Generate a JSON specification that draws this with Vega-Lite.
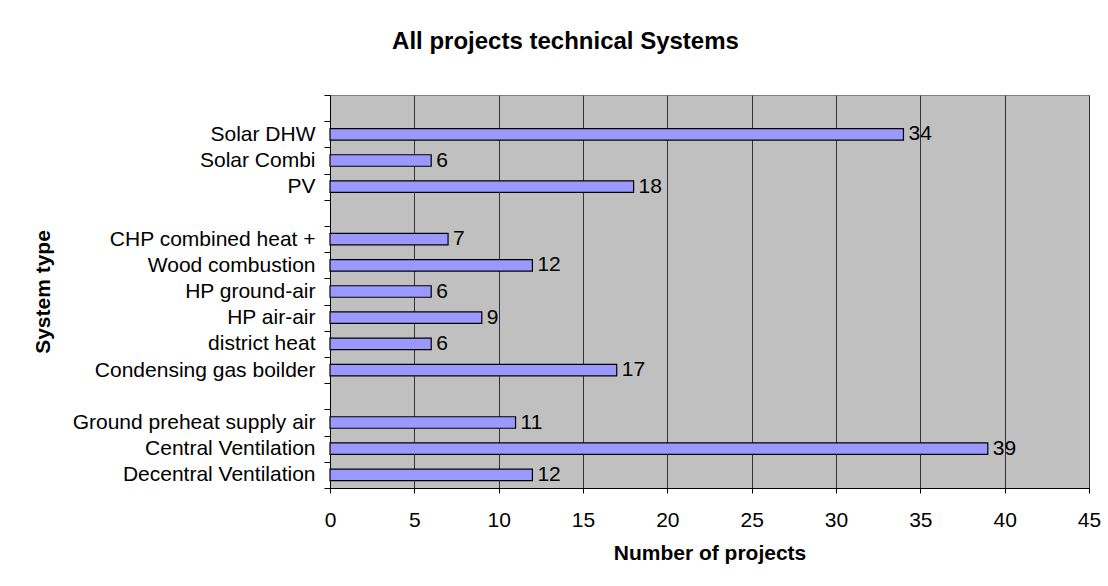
{
  "$schema": "https://vega.github.io/schema/vega-lite/v6.json",
  "autosize": {"type": "none"},
  "width": 759,
  "height": 393,
  "padding": {"left": 330, "top": 95, "right": 19, "bottom": 98},
  "background": "white",
  "title": {
    "text": "All projects technical Systems",
    "font": "Liberation Sans",
    "fontSize": 24,
    "fontWeight": "bold",
    "color": "black",
    "anchor": "middle",
    "frame": "group",
    "dx": -144,
    "offset": 30
  },
  "data": {
    "values": [
      {"system": "Solar DHW", "projects": 34},
      {"system": "Solar Combi", "projects": 6},
      {"system": "PV", "projects": 18},
      {"system": "CHP combined heat +", "projects": 7},
      {"system": "Wood combustion", "projects": 12},
      {"system": "HP ground-air", "projects": 6},
      {"system": "HP air-air", "projects": 9},
      {"system": "district heat", "projects": 6},
      {"system": "Condensing gas boilder", "projects": 17},
      {"system": "Ground preheat supply air", "projects": 11},
      {"system": "Central Ventilation", "projects": 39},
      {"system": "Decentral Ventilation", "projects": 12}
    ]
  },
  "encoding": {
    "y": {
      "field": "system",
      "type": "nominal",
      "scale": {
        "domain": ["   ", "Solar DHW", "Solar Combi", "PV", " ", "CHP combined heat +", "Wood combustion", "HP ground-air", "HP air-air", "district heat", "Condensing gas boilder", "  ", "Ground preheat supply air", "Central Ventilation", "Decentral Ventilation"],
        "paddingInner": 0,
        "paddingOuter": 0
      },
      "axis": {
        "title": "System type",
        "titleFont": "Liberation Sans",
        "titleFontSize": 21,
        "titleFontWeight": "bold",
        "titleColor": "black",
        "titleAngle": -90,
        "titleX": -287,
        "titleY": 196.5,
        "titleAlign": "center",
        "titleBaseline": "middle",
        "labelFont": "Liberation Sans",
        "labelFontSize": 21,
        "labelColor": "black",
        "labelPadding": 9,
        "labelLimit": 400,
        "tickBand": "extent",
        "tickSize": 6,
        "tickColor": "black",
        "domainColor": "black",
        "grid": false
      }
    },
    "x": {
      "field": "projects",
      "type": "quantitative",
      "scale": {"domain": [0, 45], "nice": false},
      "axis": {
        "title": "Number of projects",
        "titleFont": "Liberation Sans",
        "titleFontSize": 21,
        "titleFontWeight": "bold",
        "titleColor": "black",
        "titleY": 65,
        "titleBaseline": "middle",
        "values": [0, 5, 10, 15, 20, 25, 30, 35, 40, 45],
        "labelFont": "Liberation Sans",
        "labelFontSize": 21,
        "labelColor": "black",
        "labelPadding": 16,
        "labelFlush": false,
        "tickSize": 5,
        "tickColor": "black",
        "domainColor": "black",
        "grid": true,
        "gridColor": "#333333",
        "gridOpacity": 1
      }
    }
  },
  "layer": [
    {
      "mark": {"type": "bar", "color": "#9999FF", "stroke": "black", "strokeWidth": 1.2, "height": {"band": 0.44}}
    },
    {
      "mark": {"type": "text", "align": "left", "baseline": "middle", "dx": 5, "font": "Liberation Sans", "fontSize": 21, "color": "black"},
      "encoding": {"text": {"field": "projects", "type": "quantitative"}}
    }
  ],
  "config": {
    "view": {"fill": "#C0C0C0", "stroke": "#808080", "strokeWidth": 1}
  }
}
